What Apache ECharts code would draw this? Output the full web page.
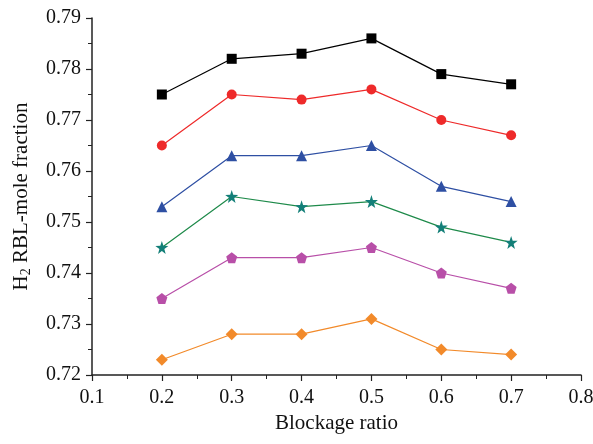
<!DOCTYPE html>
<html><head><meta charset="utf-8">
<script src="https://cdn.jsdelivr.net/npm/echarts@6/dist/echarts.min.js"></script>
<style>html,body{margin:0;padding:0;background:#fff}#c{width:593px;height:444px}</style>
</head><body><div id="c"></div>
<script>
const xValues = [0.2, 0.3, 0.4, 0.5, 0.6, 0.7];
const seriesA = [0.775, 0.782, 0.783, 0.786, 0.779, 0.777];
const seriesB = [0.765, 0.775, 0.774, 0.776, 0.770, 0.767];
const seriesC = [0.753, 0.763, 0.763, 0.765, 0.757, 0.754];
const seriesD = [0.745, 0.755, 0.753, 0.754, 0.749, 0.746];
const seriesE = [0.735, 0.743, 0.743, 0.745, 0.740, 0.737];
const seriesF = [0.723, 0.728, 0.728, 0.731, 0.725, 0.724];

const STAR = 'path://M50,0 L61.8,35.3 L100,36.2 L69.1,58.8 L79.4,95.1 L50,73.6 L20.6,95.1 L30.9,58.8 L0,36.2 L38.2,35.3 Z';
const PENTA = 'path://M50,0 L100,36.3 L80.9,95.1 L19.1,95.1 L0,36.3 Z';
const FONT = '"Liberation Serif","DejaVu Serif",serif';

function mk(data, lineColor, markColor, symbol, size) {
  return {
    type: 'line',
    data: xValues.map((x, i) => [x, data[i]]),
    symbol: symbol, symbolSize: size,
    lineStyle: {color: lineColor, width: 1.2},
    itemStyle: {color: markColor},
    animation: false
  };
}

const chart = echarts.init(document.getElementById('c'));
chart.setOption({
  animation: false,
  grid: {left: 92, right: 12, top: 18, bottom: 69, containLabel: false, outerBoundsMode: 'none'},
  xAxis: {
    type: 'value', min: 0.1, max: 0.8, interval: 0.1,
    name: 'Blockage ratio', nameLocation: 'middle', nameGap: 38,
    nameTextStyle: {fontFamily: FONT, fontSize: 21, color: '#111'},
    axisLine: {show: true, lineStyle: {color: '#222', width: 1.5}},
    axisTick: {show: true, inside: false, length: 6, lineStyle: {color: '#222', width: 1.2}},
    minorTick: {show: true, splitNumber: 2, length: 4, lineStyle: {color: '#222', width: 1}},
    splitLine: {show: false},
    axisLabel: {fontFamily: FONT, fontSize: 20, color: '#111', margin: 13, formatter: v => v.toFixed(1)}
  },
  yAxis: {
    type: 'value', min: 0.72, max: 0.79, interval: 0.01,
    name: '{a|H}{s|2}{a| RBL-mole fraction}', nameLocation: 'middle', nameGap: 59,
    nameTextStyle: {rich: {
      a: {fontFamily: FONT, fontSize: 21, color: '#111'},
      s: {fontFamily: FONT, fontSize: 14, color: '#111', verticalAlign: 'bottom', padding: [10, 0, 0, 0]}
    }},
    axisLine: {show: true, lineStyle: {color: '#222', width: 1.5}},
    axisTick: {show: true, inside: false, length: 6, lineStyle: {color: '#222', width: 1.2}},
    minorTick: {show: true, splitNumber: 2, length: 4, lineStyle: {color: '#222', width: 1}},
    splitLine: {show: false},
    axisLabel: {fontFamily: FONT, fontSize: 20, color: '#111', margin: 11, formatter: v => v.toFixed(2)}
  },
  series: [
    mk(seriesA, '#000000', '#000000', 'rect', 10),
    mk(seriesB, '#ee2a2a', '#ee2a2a', 'circle', 10),
    mk(seriesC, '#2e4fa3', '#2e4fa3', 'triangle', 11),
    mk(seriesD, '#1e8a4a', '#137f78', STAR, 13),
    mk(seriesE, '#b84fa8', '#b84fa8', PENTA, 11),
    mk(seriesF, '#f28a2a', '#f28a2a', 'diamond', 12)
  ]
});
</script></body></html>
